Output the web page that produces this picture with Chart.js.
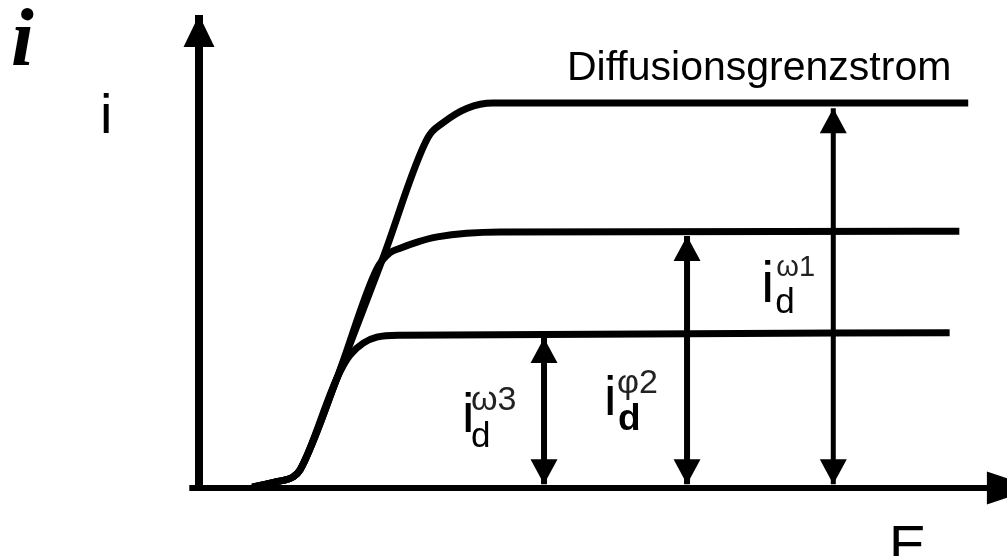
<!DOCTYPE html>
<html>
<head>
<meta charset="utf-8">
<script src="https://cdn.jsdelivr.net/npm/chart.js@4.4.1/dist/chart.umd.min.js"></script>
<style>
body { margin: 0; background: #fff; }
#grafica { display: block; }
</style>
</head>
<body>
<canvas id="grafica" width="1007" height="556"></canvas>
<script>
// valores (E en x, i en y, unidades arbitrarias 0..100)
const curva1E = [6.6, 9.5, 11.6, 12.5, 17.1, 22.8, 28.3, 30.2, 33.2, 36.4, 95.2];
const curva1I = [0.2, 1.3, 2.3, 3.8, 23.3, 48.8, 74.0, 77.2, 80.3, 81.4, 81.4];

const curva2E = [6.6, 9.5, 11.6, 12.5, 17.1, 22.0, 23.6, 24.9, 27.0, 29.5, 37.3, 94.1];
const curva2I = [0.2, 1.3, 2.3, 3.8, 23.3, 46.3, 49.7, 50.7, 52.0, 53.1, 54.1, 54.3];

const curva3E = [6.6, 9.5, 11.6, 12.5, 17.1, 18.7, 22.0, 24.9, 92.9];
const curva3I = [0.2, 1.3, 2.3, 3.8, 23.3, 28.1, 31.9, 32.3, 32.8];

// flechas dobles i_d (posicion en E, extremo inferior y superior)
const flechaE = [78.5, 60.4, 42.7];
const flechaAbajo = [0.8, 0.8, 0.8];
const flechaArriba = [80.3, 53.3, 31.7];

// ejes
const ejeXE = [-1.2, 103.7];
const ejeXI = [0, 0];
const ejeYE = [0, 0];
const ejeYI = [0, 100];

function puntos(xs, ys) {
    return xs.map((x, k) => ({ x: x, y: ys[k] }));
}

// dibuja la punta de flecha con la punta en (x1,y1) viniendo de (x0,y0)
function dibujarPunta(ctx, x1, y1, x0, y0, largo, ancho) {
    const ang = Math.atan2(y1 - y0, x1 - x0);
    ctx.save();
    ctx.translate(x1, y1);
    ctx.rotate(ang);
    ctx.beginPath();
    ctx.moveTo(0, 0);
    ctx.lineTo(-largo, -ancho / 2);
    ctx.lineTo(-largo, ancho / 2);
    ctx.closePath();
    ctx.fillStyle = '#000';
    ctx.fill();
    ctx.restore();
}

// etiquetas i_d^w (desplazamientos en px respecto a la flecha)
const etiquetas = [
    { flecha: 2, i: [-82, 432, 56], sup: ['ω3', -73, 410, 34], d: [-73, 447, 35, ''] },
    { flecha: 1, i: [-83, 415, 56], sup: ['φ2', -70, 393, 34], d: [-69, 430, 37, 'bold '] },
    { flecha: 0, i: [-72, 302, 58], sup: ['ω1', -57, 276, 29], d: [-58, 313, 35, ''] }
];

const adornos = {
    id: 'adornos',
    afterDatasetsDraw(chart) {
        const ctx = chart.ctx;
        chart.data.datasets.forEach((ds, k) => {
            if (!ds.punta) return;
            const pts = chart.getDatasetMeta(k).data;
            const n = pts.length;
            ds.punta.forEach(lado => {
                if (lado === 'fin') {
                    dibujarPunta(ctx, pts[n - 1].x, pts[n - 1].y, pts[n - 2].x, pts[n - 2].y, ds.puntaLargo, ds.puntaAncho);
                } else {
                    dibujarPunta(ctx, pts[0].x, pts[0].y, pts[1].x, pts[1].y, ds.puntaLargo, ds.puntaAncho);
                }
            });
        });
    },
    afterDraw(chart) {
        const ctx = chart.ctx;
        const sx = chart.scales.x;
        ctx.save();
        ctx.fillStyle = '#000';
        ctx.textAlign = 'left';
        ctx.textBaseline = 'alphabetic';

        // titulo grande del eje i
        ctx.font = 'italic bold 82px "Liberation Serif"';
        ctx.fillText('i', 11, 65);

        ctx.font = '56px "Liberation Sans"';
        ctx.fillText('i', 100, 133);
        ctx.fillText('E', 889, 564);

        ctx.font = '41px "Liberation Sans"';
        ctx.fillText('Diffusionsgrenzstrom', 567, 80);

        etiquetas.forEach(et => {
            const px = sx.getPixelForValue(flechaE[et.flecha]);
            ctx.fillStyle = '#000';
            ctx.font = et.i[2] + 'px "Liberation Sans"';
            ctx.fillText('i', px + et.i[0], et.i[1]);
            ctx.fillStyle = '#222';
            ctx.font = et.sup[3] + 'px "Liberation Sans"';
            ctx.fillText(et.sup[0], px + et.sup[1], et.sup[2]);
            ctx.fillStyle = '#000';
            ctx.font = et.d[3] + et.d[2] + 'px "Liberation Sans"';
            ctx.fillText('d', px + et.d[0], et.d[1]);
        });
        ctx.restore();
    }
};

const base = {
    borderColor: '#000',
    pointRadius: 0,
    fill: false,
    clip: false
};

const datasets = [
    Object.assign({}, base, { data: puntos(ejeXE, ejeXI), borderWidth: 6, punta: ['fin'], puntaLargo: 50, puntaAncho: 33 }),
    Object.assign({}, base, { data: puntos(ejeYE, ejeYI), borderWidth: 8, punta: ['fin'], puntaLargo: 32, puntaAncho: 31 }),
    Object.assign({}, base, { data: puntos(curva1E, curva1I), borderWidth: 7, cubicInterpolationMode: 'monotone', borderJoinStyle: 'round' }),
    Object.assign({}, base, { data: puntos(curva2E, curva2I), borderWidth: 7, cubicInterpolationMode: 'monotone', borderJoinStyle: 'round' }),
    Object.assign({}, base, { data: puntos(curva3E, curva3I), borderWidth: 7, cubicInterpolationMode: 'monotone', borderJoinStyle: 'round' })
];

flechaE.forEach((e, k) => {
    datasets.push(Object.assign({}, base, {
        data: puntos([e, e], [flechaAbajo[k], flechaArriba[k]]),
        borderWidth: k === 0 ? 5 : 6,
        punta: ['inicio', 'fin'],
        puntaLargo: 25,
        puntaAncho: 27
    }));
});

new Chart(document.getElementById('grafica'), {
    type: 'line',
    data: { datasets: datasets },
    options: {
        responsive: false,
        animation: false,
        devicePixelRatio: 1,
        events: [],
        layout: { padding: { left: 199, right: 0, top: 15, bottom: 68 } },
        scales: {
            x: { type: 'linear', min: 0, max: 100, display: false },
            y: { type: 'linear', min: 0, max: 100, display: false }
        },
        plugins: {
            legend: { display: false },
            tooltip: { enabled: false }
        }
    },
    plugins: [adornos]
});
</script>
</body>
</html>
